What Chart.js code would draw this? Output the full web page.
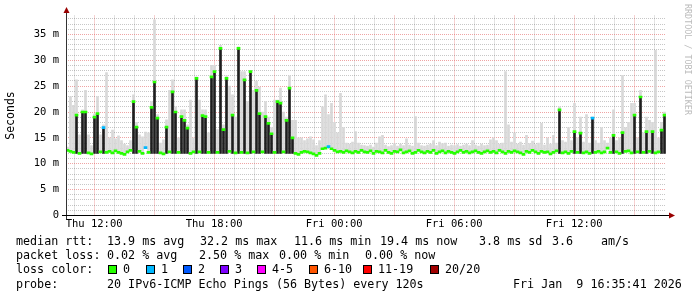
<!DOCTYPE html>
<html lang="en">
<head>
<meta charset="UTF-8" />
<title>SmokePing - median rtt</title>
<script src="https://cdn.jsdelivr.net/npm/chart.js@4.4.1/dist/chart.umd.min.js"></script>
<style>
  body { margin: 0; background: #fff; }
  #wrap { position: relative; width: 697px; height: 297px; font-family: 'DejaVu Sans Mono', monospace; color: #000; }
  #chart { position: absolute; left: 0; top: 0; }
  .t { position: absolute; font-size: 11.7px; line-height: 14px; white-space: pre; }
  .sw { position: absolute; top: 265px; width: 7px; height: 7px; border: 1px solid #000; }
  #brand { position: absolute; left: 683px; top: 4px; writing-mode: vertical-rl; font-size: 8.4px; color: #bbb; white-space: pre; }
</style>
</head>
<body>
<div id="wrap">
  <canvas id="chart" width="697" height="297"></canvas>
  <div id="brand">RRDTOOL / TOBI OETIKER</div>

  <div class="t" style="left:16px;top:234px">median rtt:</div>
  <div class="t" style="left:107px;top:234px">13.9 ms avg</div>
  <div class="t" style="left:200px;top:234px">32.2 ms max</div>
  <div class="t" style="left:294px;top:234px">11.6 ms min</div>
  <div class="t" style="left:380px;top:234px">19.4 ms now</div>
  <div class="t" style="left:479px;top:234px">3.8 ms sd</div>
  <div class="t" style="left:552px;top:234px">3.6</div>
  <div class="t" style="left:601px;top:234px">am/s</div>

  <div class="t" style="left:16px;top:248px">packet loss:</div>
  <div class="t" style="left:107px;top:248px">0.02 % avg</div>
  <div class="t" style="left:199px;top:248px">2.50 % max</div>
  <div class="t" style="left:279px;top:248px">0.00 % min</div>
  <div class="t" style="left:365px;top:248px">0.00 % now</div>

  <div class="t" style="left:16px;top:262px">loss color:</div>
  <div id="lossRow"></div>

  <div class="t" style="left:16px;top:277px">probe:</div>
  <div class="t" style="left:107px;top:277px">20 IPv6-ICMP Echo Pings (56 Bytes) every 120s</div>
  <div class="t" style="left:513px;top:277px">Fri Jan  9 16:35:41 2026</div>
</div>

<script>
  // time window: Thu 10:35:41 -> Fri 16:35:41, one slot = 9 minutes
  const startHour = 10 + 35 / 60 + 41 / 3600;
  const spanHours = 30;
  const slotHours = 0.15;

  const labelHours = [12, 18, 24, 30, 36];
  const labelTexts = ['Thu 12:00', 'Thu 18:00', 'Fri 00:00', 'Fri 06:00', 'Fri 12:00'];

  // median rtt per slot (ms)
  const median = [
    12.6, 12.4, 12.2, 19.4, 12.0, 20.0, 20.0, 12.1, 11.9, 19.0, 19.7, 12.3, 17.0, 12.2, 12.4, 12.1, 12.5, 12.2, 12.0, 11.8,
    12.3, 12.6, 22.0, 17.1, 12.4, 12.0, 13.1, 12.2, 20.9, 25.8, 18.8, 12.1, 11.9, 17.1, 12.3, 23.9, 20.0, 12.2, 19.1, 18.4,
    16.9, 12.0, 12.3, 26.5, 12.3, 19.3, 19.1, 12.2, 26.8, 27.8, 12.2, 32.3, 16.6, 26.5, 12.4, 19.4, 12.1, 32.3, 12.2, 26.2,
    12.1, 27.8, 12.3, 24.2, 19.7, 12.3, 19.1, 17.8, 15.8, 12.2, 22.0, 21.7, 12.3, 18.4, 24.6, 15.0, 12.0, 11.8, 12.2, 12.4,
    12.3, 12.1, 11.9, 11.6, 12.0, 12.9, 13.0, 13.3, 12.9, 12.6, 12.3, 12.4, 12.2, 12.5, 12.3, 12.1, 12.4, 12.2, 12.6, 12.3,
    12.2, 12.5, 12.0, 12.4, 12.3, 12.1, 12.6, 12.2, 12.0, 12.4, 12.3, 12.7, 12.1, 12.3, 12.5, 12.0, 12.2, 12.6, 12.3, 12.1,
    12.4, 12.2, 12.6, 12.0, 12.3, 12.5, 12.1, 12.4, 12.2, 12.0, 12.3, 12.6, 12.2, 12.4, 12.1, 12.3, 12.5, 12.2, 12.0, 12.3,
    12.5, 12.2, 12.4, 12.1, 12.6, 12.3, 12.0, 12.4, 12.2, 12.5, 12.3, 12.1, 11.8, 12.4, 12.2, 12.6, 12.3, 12.0, 12.4, 12.2,
    12.3, 11.9, 12.2, 12.5, 20.4, 12.1, 12.3, 12.0, 12.4, 16.2, 12.2, 15.9, 12.1, 12.3, 12.0, 18.8, 12.2, 12.4, 12.1, 12.3,
    13.0, 12.2, 15.5, 12.3, 12.0, 16.0, 12.4, 12.5, 12.1, 19.4, 12.3, 22.9, 12.2, 16.2, 12.4, 16.2, 12.1, 12.3, 16.5, 19.4
  ];

  // highest ping per slot (ms), the grey smoke
  const smokeTop = [
    13.2, 23.0, 21.3, 26.2, 15.6, 20.4, 24.2, 15.6, 13.5, 19.6, 23.0, 15.6, 17.5, 27.6, 15.0, 16.5, 14.8, 15.4, 14.5, 13.8,
    13.5, 14.5, 23.3, 18.0, 15.6, 15.2, 16.1, 16.0, 22.0, 37.8, 19.5, 14.0, 14.6, 18.5, 24.2, 26.2, 21.0, 15.0, 20.4, 20.4,
    17.5, 22.3, 15.0, 26.8, 22.3, 20.4, 20.4, 16.0, 29.0, 29.0, 16.6, 32.9, 17.5, 27.0, 25.0, 23.3, 19.0, 32.6, 27.8, 27.8,
    22.0, 27.9, 24.2, 26.0, 24.8, 20.0, 22.0, 19.0, 17.0, 22.3, 22.3, 24.6, 20.0, 19.0, 27.0, 18.4, 18.4, 15.0, 15.0, 14.5,
    14.8, 15.2, 14.6, 13.5, 14.5, 21.0, 23.3, 19.5, 21.7, 18.0, 16.0, 23.6, 17.0, 14.0, 13.8, 14.2, 16.2, 14.0, 13.6, 13.5,
    13.4, 13.6, 13.2, 14.0, 15.2, 15.5, 13.6, 13.3, 13.5, 13.9, 13.4, 13.8, 13.5, 14.8, 13.6, 13.4, 19.1, 14.0, 13.5, 13.4,
    13.6, 13.8, 14.5, 13.5, 14.2, 13.9, 14.0, 13.4, 13.6, 13.5, 13.7, 13.4, 13.6, 13.8, 13.5, 14.5, 13.6, 13.4, 13.8, 13.5,
    13.6, 14.6, 15.0, 14.5, 13.8, 14.0, 27.8, 17.5, 14.2, 16.0, 13.8, 14.2, 13.6, 15.5, 13.9, 14.4, 13.7, 14.0, 17.8, 13.6,
    15.0, 13.8, 15.5, 14.0, 21.0, 14.5, 14.2, 17.0, 14.5, 21.7, 15.0, 19.0, 14.2, 19.5, 14.0, 19.0, 14.5, 14.0, 17.0, 14.5,
    14.0, 15.0, 20.4, 14.5, 15.0, 27.1, 17.0, 18.0, 21.7, 21.7, 15.0, 24.2, 16.0, 19.0, 18.4, 18.0, 31.9, 15.0, 18.0, 20.0
  ];

  // slots where 1 of 20 pings was lost
  const oneLossSlots = [12, 26, 87, 175];

  const lossLabels = ['0', '1', '2', '3', '4-5', '6-10', '11-19', '20/20'];
  const lossColors = ['#26ff00', '#00b8ff', '#0059ff', '#7e00ff', '#ff00ff', '#ff5500', '#ff0000', '#a10000'];
  const lossSwatchX = [108, 146, 183, 220, 257, 309, 363, 430];

  const row = document.getElementById('lossRow');
  lossLabels.forEach((lab, i) => {
    const sw = document.createElement('div');
    sw.className = 'sw';
    sw.style.left = lossSwatchX[i] + 'px';
    sw.style.background = lossColors[i];
    row.appendChild(sw);
    const tx = document.createElement('div');
    tx.className = 't';
    tx.style.left = (lossSwatchX[i] + 15) + 'px';
    tx.style.top = '262px';
    tx.textContent = lab;
    row.appendChild(tx);
  });

  const xOf = i => startHour + (i + 0.5) * slotHours;
  const jumpFloor = 12.0;

  const greenData = median.map((m, i) => ({ x: xOf(i), y: [m - 0.2, m + 0.2] }));
  const blackData = median.map((m, i) => ({ x: xOf(i), y: m >= 13.8 ? [jumpFloor, m] : null }));
  const smokeData = median.map((m, i) => ({ x: xOf(i), y: [m, smokeTop[i]] }));

  const RED_GRID = 'rgba(225, 90, 90, 0.55)';
  const GRAY_GRID = 'rgba(0, 0, 0, 0.22)';
  const MONO = "'DejaVu Sans Mono', monospace";

  const axesPlugin = {
    id: 'rrdAxes',
    afterDraw(chart) {
      const { ctx, chartArea: a } = chart;
      const x0 = a.left + 0.5, y0 = a.bottom;
      ctx.save();
      ctx.lineWidth = 1;
      ctx.strokeStyle = '#333';
      ctx.beginPath();
      ctx.moveTo(x0, 10);
      ctx.lineTo(x0, y0 + 4);
      ctx.stroke();
      ctx.strokeStyle = '#000';
      ctx.beginPath();
      ctx.moveTo(a.left - 4, y0);
      ctx.lineTo(a.right + 4, y0);
      ctx.stroke();
      ctx.fillStyle = '#990000';
      ctx.beginPath();
      ctx.moveTo(x0, 7);
      ctx.lineTo(x0 - 3, 13);
      ctx.lineTo(x0 + 3, 13);
      ctx.closePath();
      ctx.fill();
      ctx.beginPath();
      ctx.moveTo(a.right + 9, y0);
      ctx.lineTo(a.right + 3, y0 - 3);
      ctx.lineTo(a.right + 3, y0 + 3);
      ctx.closePath();
      ctx.fill();
      ctx.restore();
    }
  };

  new Chart(document.getElementById('chart'), {
    type: 'bar',
    data: {
      datasets: [
        {
          label: 'median',
          data: greenData,
          backgroundColor: c => oneLossSlots.includes(c.dataIndex) ? lossColors[1] : lossColors[0],
          barThickness: 3,
          grouped: false
        },
        {
          label: 'jump',
          data: blackData,
          backgroundColor: '#1e1e1e',
          barThickness: 2,
          grouped: false
        },
        {
          label: 'smoke',
          data: smokeData,
          backgroundColor: '#d8d8d8',
          barThickness: 2,
          grouped: false
        }
      ]
    },
    options: {
      responsive: false,
      animation: false,
      events: [],
      layout: { padding: { top: 15.5, right: 31, bottom: 0, left: 0 } },
      plugins: { legend: { display: false }, tooltip: { enabled: false } },
      scales: {
        x: {
          type: 'linear',
          min: startHour,
          max: startHour + spanHours,
          offset: false,
          afterBuildTicks: s => {
            const t = [];
            for (let h = Math.ceil(startHour); h < startHour + spanHours; h++) t.push({ value: h });
            s.ticks = t;
          },
          afterFit: s => { s.height = 297 - 215.5; },
          grid: {
            offset: false,
            drawTicks: false,
            color: c => (c.tick && c.tick.value % 3 === 0) ? RED_GRID : GRAY_GRID
          },
          border: { display: false, dash: [1, 1] },
          ticks: {
            autoSkip: false,
            maxRotation: 0,
            padding: 2,
            color: '#000',
            font: { family: MONO, size: 10.5 },
            callback: v => {
              const k = labelHours.indexOf(Math.round(v));
              return k >= 0 ? labelTexts[k] : '';
            }
          }
        },
        y: {
          min: 0,
          max: 38.65,
          afterBuildTicks: s => {
            const t = [];
            for (let v = 0; v <= 38; v++) t.push({ value: v });
            s.ticks = t;
          },
          afterFit: s => { s.width = 66; },
          grid: {
            drawTicks: false,
            color: c => (c.tick && c.tick.value % 5 === 0) ? RED_GRID : GRAY_GRID
          },
          border: { display: false, dash: [1, 1] },
          title: {
            display: true,
            text: 'Seconds',
            color: '#000',
            padding: { top: 4, bottom: 0 },
            font: { family: MONO, size: 11.5 }
          },
          ticks: {
            autoSkip: false,
            padding: 7,
            color: '#000',
            font: { family: MONO, size: 10.5 },
            callback: v => v % 5 === 0 ? (v === 0 ? '0' : v + ' m') : ''
          }
        }
      }
    },
    plugins: [axesPlugin]
  });
</script>
</body>
</html>
